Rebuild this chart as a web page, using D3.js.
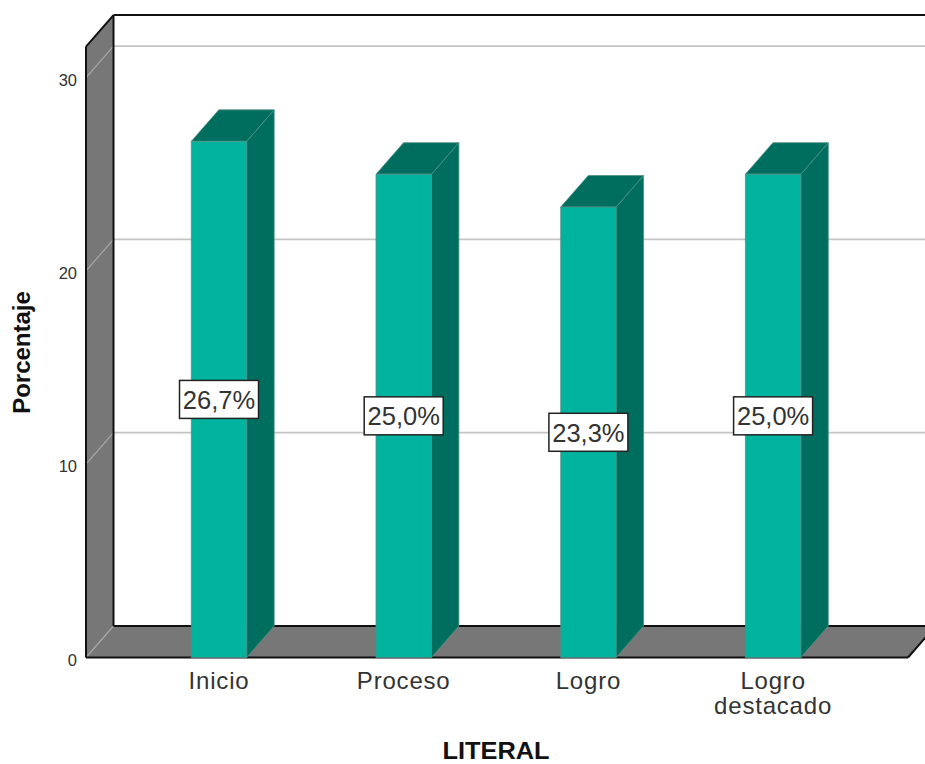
<!DOCTYPE html>
<html><head><meta charset="utf-8">
<script src="https://cdn.jsdelivr.net/npm/d3@7/dist/d3.min.js"></script>
<style>html,body{margin:0;padding:0;background:#fff;overflow:hidden}svg{display:block}text{font-family:"Liberation Sans",Arial,sans-serif}</style>
</head><body><svg id="c" width="925" height="764"></svg>
<script>
const categories = ["Inicio","Proceso","Logro","Logro destacado"];
const values = [26.7,25.0,23.3,25.0];
const valueLabels = ["26,7%","25,0%","23,3%","25,0%"];
const yTicks = [0,10,20,30];
const yTitle = "Porcentaje";
const xTitle = "LITERAL";

const dx = 27.5, dy = 31.5;
const y = d3.scaleLinear().domain([0,31.6]).range([657.5,46.6]);
const x = d3.scaleBand().domain(categories).range([126.65,865.45]).paddingInner(0.697).paddingOuter(0.3485);
const right = 908;
const svg = d3.select("#c");
const poly = (pts,fill) => svg.append("polygon").attr("points",pts.map(p=>p.join(",")).join(" ")).attr("fill",fill);
const y0 = y(0), yT = y(31.6), xL = 86;

// wall and floor
poly([[xL,y0],[xL+dx,y0-dy],[xL+dx,yT-dy],[xL,yT]],"#777777");
poly([[xL,y0],[xL+dx,y0-dy],[right+dx,y0-dy],[right,y0]],"#777777");

// gridlines
svg.append("g").selectAll("line").data(yTicks.filter(d=>d>0)).join("line")
  .attr("x1",xL+dx).attr("x2",925).attr("y1",d=>y(d)-dy).attr("y2",d=>y(d)-dy)
  .attr("stroke","#c4c4c4").attr("stroke-width",1.8);
svg.append("g").selectAll("line").data(yTicks).join("line")
  .attr("x1",xL).attr("x2",xL+dx).attr("y1",d=>y(d)).attr("y2",d=>y(d)-dy)
  .attr("stroke","#a8a8a8").attr("stroke-width",1.2);

// frame
const frame = (a,b,c,d)=>svg.append("line").attr("x1",a).attr("y1",b).attr("x2",c).attr("y2",d).attr("stroke","#111").attr("stroke-width",2);
frame(xL,yT,xL,y0);
frame(xL,yT,xL+dx,yT-dy);
frame(xL+dx,yT-dy,925,yT-dy);
frame(xL+dx,yT-dy,xL+dx,y0-dy);
frame(xL+dx,y0-dy,925,y0-dy);
frame(xL,y0,right,y0);
frame(right,y0,right+dx,y0-dy);

// bars
const bars = svg.append("g").selectAll("g").data(categories).join("g");
bars.each(function(c,i){
  const g = d3.select(this), l = x(c)+0.3, w = x.bandwidth()-0.6, t = y(values[i]);
  const p = (pts,fill)=>g.append("polygon").attr("points",pts.map(q=>q.join(",")).join(" ")).attr("fill",fill).attr("stroke","#4f8f86").attr("stroke-width",0.8);
  p([[l+w,y0],[l+w+dx,y0-dy],[l+w+dx,t-dy],[l+w,t]],"#006e5f");
  p([[l,t],[l+dx,t-dy],[l+w+dx,t-dy],[l+w,t]],"#006e5f");
  p([[l,t],[l+w,t],[l+w,y0],[l,y0]],"#00b39f");
});

// y tick labels
svg.append("g").selectAll("text").data(yTicks).join("text")
  .attr("x",77).attr("y",d=>y(d)+8).attr("text-anchor","end").attr("font-size",16.5).attr("fill","#333").text(d=>d);

// category labels
const catLines = c => c==="Logro destacado" ? ["Logro","destacado"] : [c];
svg.append("g").selectAll("text").data(categories).join("text")
  .attr("text-anchor","middle").attr("font-size",24).attr("letter-spacing",0.8).attr("fill","#333")
  .each(function(c){
    d3.select(this).selectAll("tspan").data(catLines(c)).join("tspan")
      .attr("x",x(c)+x.bandwidth()/2).attr("y",(d,i)=>689+i*25).text(d=>d);
  });

// value labels
const lab = svg.append("g").selectAll("g").data(categories).join("g")
  .attr("transform",(c,i)=>`translate(${x(c)+x.bandwidth()/2},${(y(values[i])+y0)/2})`);
lab.append("rect").attr("x",-39.5).attr("y",-19).attr("width",79).attr("height",38)
  .attr("fill","#fff").attr("stroke","#222").attr("stroke-width",1.5);
lab.append("text").attr("text-anchor","middle").attr("y",9.5).attr("font-size",25.5).attr("fill","#333").text((c,i)=>valueLabels[i]);

// titles
svg.append("text").attr("x",496).attr("y",759).attr("text-anchor","middle").attr("font-size",23).attr("font-weight","bold").attr("fill","#111")
  .attr("textLength",107).attr("lengthAdjust","spacingAndGlyphs").text(xTitle);
svg.append("text").attr("transform","translate(30,352.5) rotate(-90)").attr("text-anchor","middle").attr("font-size",24).attr("font-weight","bold").attr("fill","#111").text(yTitle);
</script></body></html>
